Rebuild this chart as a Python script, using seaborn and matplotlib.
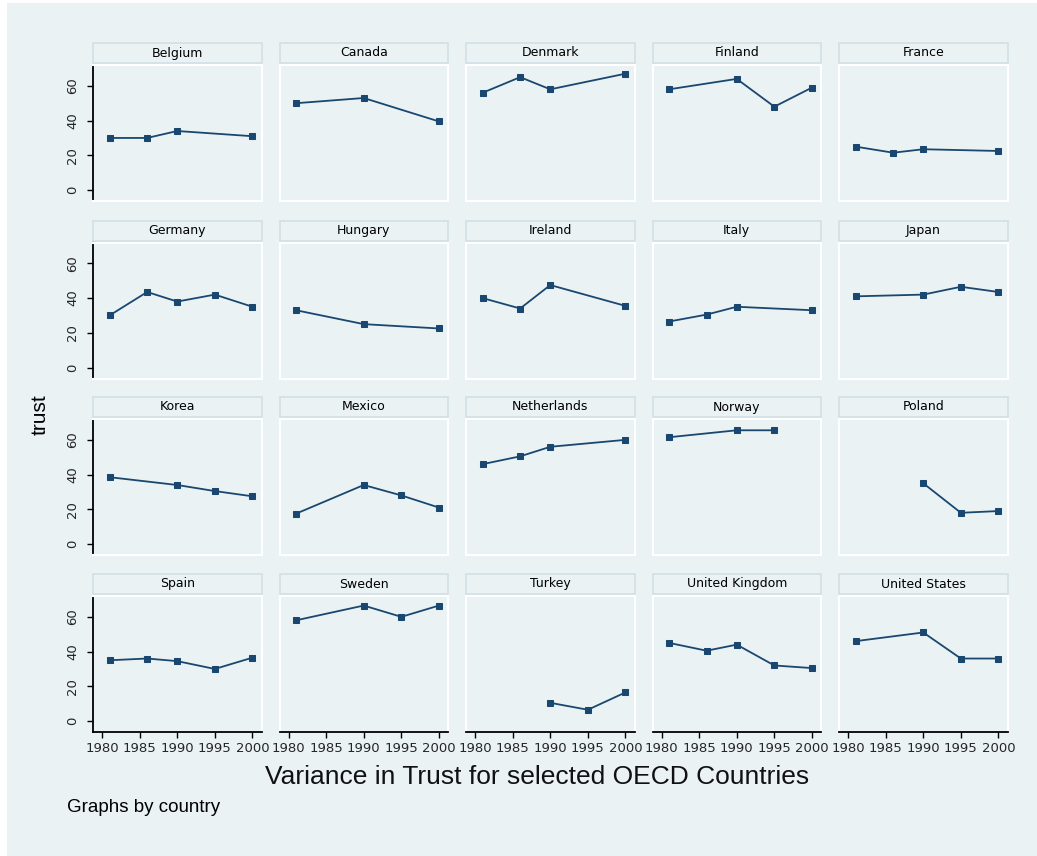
import matplotlib
matplotlib.use("Agg")
import matplotlib.pyplot as plt
from matplotlib import font_manager
from matplotlib.patches import Rectangle
import pandas as pd
import seaborn as sns

# Generalized trust (% saying most people can be trusted) by survey wave
countries = ["Belgium", "Canada", "Denmark", "Finland", "France",
             "Germany", "Hungary", "Ireland", "Italy", "Japan",
             "Korea", "Mexico", "Netherlands", "Norway", "Poland",
             "Spain", "Sweden", "Turkey", "United Kingdom", "United States"]

years = [
    [1981, 1986, 1990, 2000],
    [1981, 1990, 2000],
    [1981, 1986, 1990, 2000],
    [1981, 1990, 1995, 2000],
    [1981, 1986, 1990, 2000],
    [1981, 1986, 1990, 1995, 2000],
    [1981, 1990, 2000],
    [1981, 1986, 1990, 2000],
    [1981, 1986, 1990, 2000],
    [1981, 1990, 1995, 2000],
    [1981, 1990, 1995, 2000],
    [1981, 1990, 1995, 2000],
    [1981, 1986, 1990, 2000],
    [1981, 1990, 1995],
    [1990, 1995, 2000],
    [1981, 1986, 1990, 1995, 2000],
    [1981, 1990, 1995, 2000],
    [1990, 1995, 2000],
    [1981, 1986, 1990, 1995, 2000],
    [1981, 1990, 1995, 2000],
]

trust = [
    [30.0, 30.0, 34.0, 31.0],
    [50.0, 53.0, 39.5],
    [56.0, 65.0, 58.0, 67.0],
    [58.0, 64.0, 48.0, 59.0],
    [25.0, 21.5, 23.5, 22.5],
    [30.0, 43.5, 38.0, 42.0, 35.0],
    [33.0, 25.0, 22.5],
    [40.0, 34.0, 47.5, 35.5],
    [26.5, 30.5, 35.0, 33.0],
    [41.0, 42.0, 46.5, 43.5],
    [38.5, 34.0, 30.5, 27.5],
    [17.5, 34.0, 28.0, 21.0],
    [46.0, 50.5, 56.0, 60.0],
    [61.5, 65.5, 65.5],
    [35.0, 18.0, 19.0],
    [35.0, 36.0, 34.5, 30.0, 36.5],
    [58.0, 66.5, 60.0, 66.5],
    [10.5, 6.5, 16.5],
    [45.0, 40.5, 44.0, 32.0, 30.5],
    [46.0, 51.0, 36.0, 36.0],
]

y_ticks = [0, 20, 40, 60]
x_ticks = [1980, 1985, 1990, 1995, 2000]

df = pd.DataFrame(
    [(c, yr, v) for c, ys, vs in zip(countries, years, trust) for yr, v in zip(ys, vs)],
    columns=["country", "year", "trust"],
)

sns.set_theme(style="white")
available = {f.name for f in font_manager.fontManager.ttflist}
narrow = "Liberation Sans Narrow" if "Liberation Sans Narrow" in available else "DejaVu Sans"
plain = "Liberation Sans" if "Liberation Sans" in available else "DejaVu Sans"
plt.rcParams["font.family"] = [plain, "DejaVu Sans"]

BG = "#EAF2F3"
STRIP_EDGE = "#D3E1E7"
NAVY = "#1A476F"

W, H = 1037, 856
fig = plt.figure(figsize=(W / 100, H / 100), dpi=100, facecolor="white")
fig.patches.append(Rectangle((7 / W, 0), (W - 7) / W, (H - 3) / H,
                             transform=fig.transFigure, facecolor=BG,
                             edgecolor="none", zorder=-10))


def fbox(left, top, width, height):
    return [left / W, 1 - (top + height) / H, width / W, height / H]


col_left = [93, 279.5, 466, 652.5, 839]
row_top = [65, 242.5, 419, 596]
pw, ph = 168.5, 136

for i, country in enumerate(countries):
    r, c = divmod(i, 5)
    l, t = col_left[c], row_top[r]
    ax = fig.add_axes(fbox(l, t, pw, ph))
    ax.set_facecolor(BG)
    sub = df[df["country"] == country]
    sns.lineplot(data=sub, x="year", y="trust", ax=ax, color=NAVY,
                 marker="s", markersize=4.2, markeredgecolor=NAVY,
                 linewidth=1.3, legend=False)
    ax.set_xlim(1978.8, 2001.2)
    ax.set_ylim(-6.3, 72)
    ax.set_xlabel("")
    ax.set_ylabel("")
    for s in ax.spines.values():
        s.set_color("white")
        s.set_linewidth(1.5)
    ax.set_yticks(y_ticks)
    ax.set_xticks(x_ticks)
    if c == 0:
        ax.spines["left"].set_color("black")
        ax.spines["left"].set_linewidth(1.3)
        ax.tick_params(axis="y", left=True, length=4, width=1, color="black",
                       pad=6, labelsize=9.5)
        ax.set_yticklabels([str(v) for v in y_ticks], rotation=90,
                           va="center", family=narrow)
    else:
        ax.tick_params(axis="y", left=False, labelleft=False)
    if r == 3:
        ax.spines["bottom"].set_color("black")
        ax.spines["bottom"].set_linewidth(1.3)
        ax.tick_params(axis="x", bottom=True, length=4, width=1, color="black",
                       pad=3, labelsize=9.5)
        ax.set_xticklabels([str(v) for v in x_ticks], family=narrow)
    else:
        ax.tick_params(axis="x", bottom=False, labelbottom=False)

    # strip header above each panel
    sx, sy, sw, sh = fbox(l, t - 22, pw, 20)
    fig.patches.append(Rectangle((sx, sy), sw, sh, transform=fig.transFigure,
                                 facecolor=BG, edgecolor=STRIP_EDGE,
                                 linewidth=1.3, zorder=1))
    fig.text(sx + sw / 2, sy + sh / 2, country, ha="center", va="center",
             fontsize=9, family=narrow, color="black")

fig.text(40 / W, 1 - 415 / H, "trust", rotation=90, ha="center", va="center",
         fontsize=15, color="black")
fig.text(537 / W, 1 - 777 / H, "Variance in Trust for selected OECD Countries",
         ha="center", va="center", fontsize=19, color="#111111")
fig.text(67 / W, 1 - 808 / H, "Graphs by country", ha="left", va="center",
         fontsize=13.5, color="black")

fig.savefig("out.png", dpi=100, facecolor=fig.get_facecolor())
